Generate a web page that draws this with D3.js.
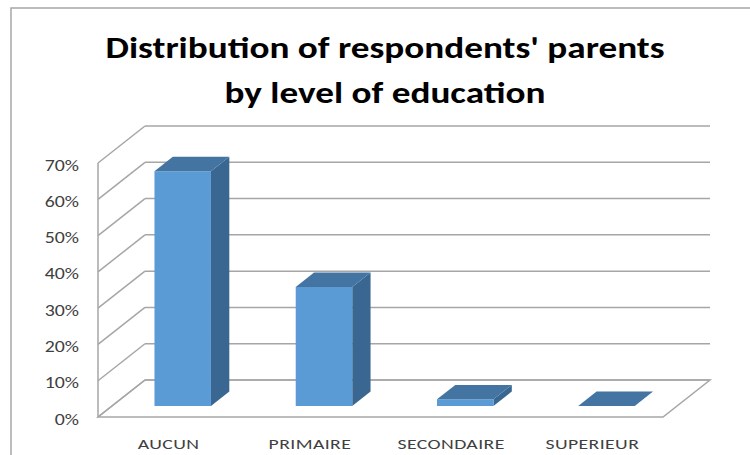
<!DOCTYPE html>
<html>
<head>
<meta charset="utf-8">
<script src="https://cdn.jsdelivr.net/npm/d3@7"></script>
<style>
  body { margin: 0; background: #fff; }
  svg { display: block; }
</style>
</head>
<body>
<div id="container"></div>
<script>
const width = 750;
const height = 455;

// Data
const categories = ["AUCUN", "PRIMAIRE", "SECONDAIRE", "SUPERIEUR"];
const values = [0.647, 0.328, 0.018, 0];
const yTicks = [0, 0.1, 0.2, 0.3, 0.4, 0.5, 0.6, 0.7];
const titleLines = ["Distribution of respondents' parents", "by level of education"];

// depth of the 3d box in pixels
const depthX = 47;
const depthY = -37;
// the source picture is stretched a little horizontally
const stretch = 1.24;

const svg = d3
  .select("#container")
  .append("svg")
  .attr("width", width)
  .attr("height", height);

// chart border
svg
  .append("rect")
  .attr("x", 11)
  .attr("y", 8)
  .attr("width", 800)
  .attr("height", 500)
  .attr("fill", "none")
  .attr("stroke", "#a6a6a6")
  .attr("stroke-width", 1.5);

// title
svg
  .append("g")
  .selectAll("text")
  .data(titleLines)
  .enter()
  .append("text")
  .attr("transform", (d, i) => `translate(385, ${58 + i * 45}) scale(${stretch}, 1)`)
  .attr("text-anchor", "middle")
  .style("font-family", "Carlito, Calibri, Lato, sans-serif")
  .style("font-weight", "bold")
  .style("font-size", "30px")
  .style("fill", "#000")
  .text((d) => d);

const xScale = d3.scaleBand().domain(categories).range([98, 663]);
const yScale = d3.scaleLinear().domain([0, 0.7]).range([417, 163]);

// project a point (front x, value, depth 0..1) to the screen
const proj = (x, v, z) => [x + z * depthX, yScale(v) + z * depthY];
const poly = (pts) => pts.map((p) => p.join(",")).join(" ");

const grid = svg.append("g").attr("stroke", "#a6a6a6").attr("stroke-width", 1.5).attr("fill", "none");

// back wall lines
grid
  .selectAll(".back")
  .data(yTicks)
  .enter()
  .append("line")
  .attr("x1", proj(98, 0, 1)[0])
  .attr("x2", proj(663, 0, 1)[0])
  .attr("y1", (d) => proj(98, d, 1)[1])
  .attr("y2", (d) => proj(98, d, 1)[1]);

// side wall lines
grid
  .selectAll(".side")
  .data(yTicks)
  .enter()
  .append("line")
  .attr("x1", 98)
  .attr("x2", proj(98, 0, 1)[0])
  .attr("y1", (d) => yScale(d))
  .attr("y2", (d) => proj(98, d, 1)[1]);

grid
  .append("line")
  .attr("x1", 98)
  .attr("x2", 98)
  .attr("y1", yScale(0))
  .attr("y2", yScale(0.7));

// floor
grid
  .append("polygon")
  .attr("points", poly([proj(98, 0, 0), proj(663, 0, 0), proj(663, 0, 1), proj(98, 0, 1)]));

// y axis labels
svg
  .append("g")
  .selectAll("text")
  .data(yTicks)
  .enter()
  .append("text")
  .attr("transform", (d) => `translate(79, ${yScale(d) + 7.5}) scale(1.24, 1)`)
  .attr("text-anchor", "end")
  .style("font-family", "Carlito, Calibri, Lato, sans-serif")
  .style("font-size", "16px")
  .style("fill", "#404040")
  .text((d) => d3.format(".0%")(d));

// x axis labels
svg
  .append("g")
  .selectAll("text")
  .data(categories)
  .enter()
  .append("text")
  .attr("transform", (d) => `translate(${xScale(d) + xScale.bandwidth() / 2}, 449) scale(1.36, 1)`)
  .attr("text-anchor", "middle")
  .style("font-family", "Carlito, Calibri, Lato, sans-serif")
  .style("font-size", "14.5px")
  .style("letter-spacing", "0.3px")
  .style("fill", "#404040")
  .text((d) => d);

// bars
const z0 = 0.3;
const z1 = 0.69;
const bars = svg
  .append("g")
  .selectAll("g")
  .data(categories.map((c, i) => ({ cat: c, value: values[i] })))
  .enter()
  .append("g");

const left = (d) => xScale(d.cat) + xScale.bandwidth() * 0.3;
const right = (d) => xScale(d.cat) + xScale.bandwidth() * 0.7;

// right side
bars
  .append("polygon")
  .attr("fill", "#3a6791")
  .attr("points", (d) =>
    poly([proj(right(d), 0, z0), proj(right(d), 0, z1), proj(right(d), d.value, z1), proj(right(d), d.value, z0)])
  );

// front
bars
  .append("polygon")
  .attr("fill", "#5b9bd5")
  .attr("points", (d) =>
    poly([proj(left(d), 0, z0), proj(right(d), 0, z0), proj(right(d), d.value, z0), proj(left(d), d.value, z0)])
  );

// top
bars
  .append("polygon")
  .attr("fill", "#4474a2")
  .attr("points", (d) =>
    poly([proj(left(d), d.value, z0), proj(right(d), d.value, z0), proj(right(d), d.value, z1), proj(left(d), d.value, z1)])
  );
</script>
</body>
</html>
